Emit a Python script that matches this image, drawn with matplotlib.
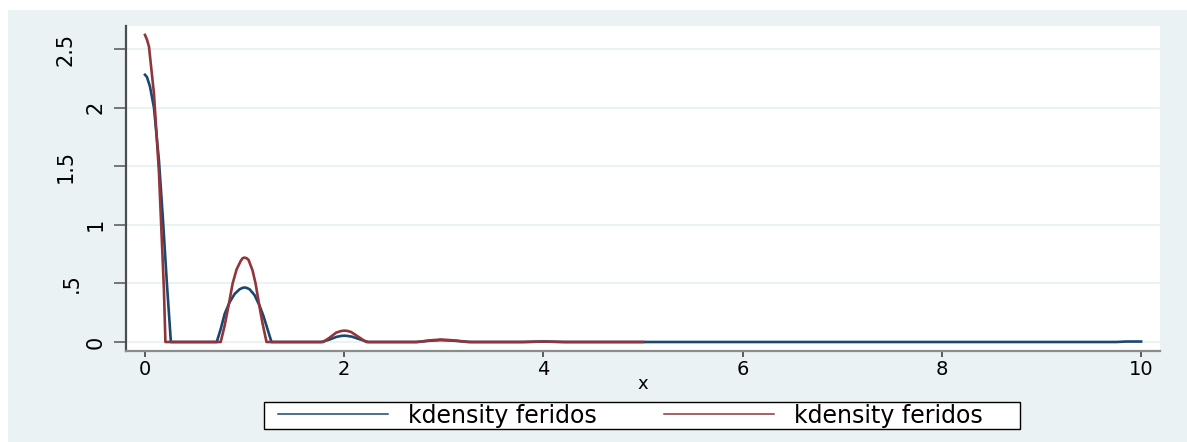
import matplotlib
matplotlib.use("Agg")
import matplotlib.pyplot as plt
from matplotlib.patches import Rectangle
from matplotlib.lines import Line2D
from matplotlib.transforms import ScaledTranslation

# Kernel density estimates of "feridos" (two estimates)
x_blue = [0.00, 0.02, 0.05, 0.09, 0.14, 0.18, 0.22, 0.26,
          0.72, 0.76, 0.80, 0.85, 0.90, 0.95, 0.98, 1.00, 1.02, 1.05, 1.10, 1.15, 1.19, 1.23, 1.27,
          1.77, 1.85, 1.92, 1.97, 2.00, 2.03, 2.08, 2.16, 2.24,
          2.72, 2.85, 2.97, 3.10, 3.27,
          3.78, 4.00, 4.22,
          9.75, 9.85, 10.00]
y_blue = [2.28, 2.26, 2.18, 2.00, 1.55, 1.05, 0.50, 0.00,
          0.00, 0.11, 0.24, 0.34, 0.41, 0.45, 0.462, 0.465, 0.462, 0.45, 0.40, 0.31, 0.22, 0.11, 0.00,
          0.00, 0.020, 0.043, 0.052, 0.054, 0.052, 0.045, 0.022, 0.00,
          0.00, 0.010, 0.016, 0.011, 0.00,
          0.00, 0.004, 0.00,
          0.00, 0.004, 0.004]

x_red = [0.00, 0.02, 0.04, 0.09, 0.14, 0.17, 0.19, 0.205,
         0.76, 0.80, 0.825, 0.85, 0.88, 0.92, 0.96, 0.98, 1.00, 1.02, 1.04, 1.08, 1.11, 1.15, 1.18, 1.22,
         1.79, 1.85, 1.92, 1.97, 2.00, 2.03, 2.07, 2.15, 2.22,
         2.74, 2.86, 2.97, 3.10, 3.24,
         3.80, 4.00, 4.20,
         5.00]
y_red = [2.62, 2.58, 2.52, 2.12, 1.45, 0.85, 0.45, 0.00,
         0.00, 0.14, 0.25, 0.36, 0.50, 0.62, 0.69, 0.715, 0.72, 0.715, 0.70, 0.61, 0.50, 0.30, 0.16, 0.00,
         0.00, 0.035, 0.080, 0.094, 0.097, 0.095, 0.085, 0.040, 0.00,
         0.00, 0.014, 0.021, 0.014, 0.00,
         0.00, 0.004, 0.00,
         0.00]

series_labels = ["kdensity feridos", "kdensity feridos"]
x_ticks = [0, 2, 4, 6, 8, 10]
x_ticklabels = ["0", "2", "4", "6", "8", "10"]
y_ticks = [0, 0.5, 1, 1.5, 2, 2.5]
y_ticklabels = ["0", ".5", "1", "1.5", "2", "2.5"]

W, H = 1187, 442
BLUE = "#1a476f"
RED = "#90353b"
PANEL = "#eaf2f3"

fig = plt.figure(figsize=(W / 100, H / 100), dpi=100)
fig.patch.set_facecolor("white")

# graph region
fig.add_artist(Rectangle((8 / W, 0), 1 - 8 / W, 1 - 10 / H, transform=fig.transFigure,
                         facecolor=PANEL, edgecolor="none", zorder=-10))

ax = fig.add_axes([126 / W, 1 - 351 / H, (1160 - 126) / W, (351 - 26) / H])
ax.set_facecolor("white")

ax.plot(x_blue, y_blue, color=BLUE, lw=1.9, solid_joinstyle="round")
ax.plot(x_red, y_red, color=RED, lw=1.9, solid_joinstyle="round")

ax.set_xlim(-0.1906, 10.19)
ax.set_ylim(-0.0768, 2.696)

ax.set_xticks(x_ticks)
ax.set_xticklabels(x_ticklabels, fontsize=14)
ax.set_yticks(y_ticks)
ax.set_yticklabels(y_ticklabels, fontsize=15, rotation=90, va="center")

ax.tick_params(axis="x", length=4.3, width=1.1, color="#333333", pad=2.0)
ax.tick_params(axis="y", length=8.6, width=1.1, color="#555555", pad=6.0)

for s in ("top", "right"):
    ax.spines[s].set_visible(False)
ax.spines["left"].set_color("#4d4d4d")
ax.spines["left"].set_linewidth(1.6)
ax.spines["bottom"].set_color("#8c8c8c")
ax.spines["bottom"].set_linewidth(1.6)

ax.set_axisbelow(True)
ax.yaxis.grid(True, color=PANEL, lw=1.4)
ax.xaxis.grid(False)

ax.set_xlabel("x", fontsize=13)
ax.xaxis.set_label_coords(0.5, -0.075)
ax.xaxis.label.set_va("top")

# multi-character y labels sit further from the axis
shift = {".5": -24, "1.5": -30, "2.5": -30}
for lab in ax.get_yticklabels():
    dx = shift.get(lab.get_text(), 0)
    if dx:
        lab.set_transform(lab.get_transform() + ScaledTranslation(dx / 100, 0, fig.dpi_scale_trans))

# legend
fig.add_artist(Rectangle((264 / W, 1 - 429.3 / H), (1020 - 264) / W, (429.3 - 401.7) / H,
                         transform=fig.transFigure, facecolor="white", edgecolor="black",
                         lw=1.0, zorder=5))
handles = [Line2D([], [], color=BLUE, lw=1.1), Line2D([], [], color=RED, lw=1.1)]
fs = 17
em = fs * 100 / 72
text_w = 188
colsp = (663 - (278 + 110 + 20 + text_w)) / em
leg = fig.legend(handles, series_labels, loc="center left",
                 bbox_to_anchor=(278 / W, 1 - 415.5 / H), ncol=2, frameon=False,
                 fontsize=fs, borderpad=0, borderaxespad=0,
                 handlelength=110 / em, handletextpad=20 / em, columnspacing=colsp)
leg.set_zorder(6)

fig.savefig("out.png", dpi=100)
